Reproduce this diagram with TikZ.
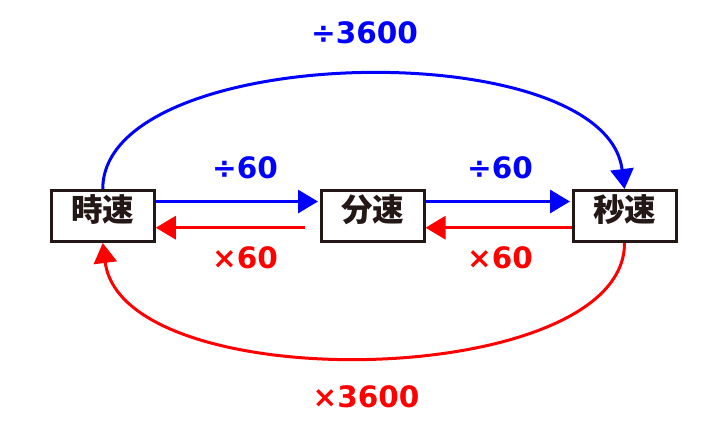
\documentclass[tikz,border=0pt]{standalone}
\usepackage{fontspec}
\newfontfamily\jpfont{Noto Sans CJK JP}
\newfontfamily\lblfont{DejaVu Sans}
\usetikzlibrary{arrows.meta}
\definecolor{boxline}{RGB}{35,24,21}
\definecolor{myblue}{RGB}{0,0,255}
\definecolor{myred}{RGB}{255,0,0}
\begin{document}
\begin{tikzpicture}[x=1pt,y=-1pt,
  spd/.style={draw=boxline, line width=3pt, fill=white, minimum width=103pt, minimum height=51pt,
    inner sep=0pt, text height=20pt, text depth=9pt,
    font=\jpfont\bfseries\fontsize{31.5}{32}\selectfont, text=boxline},
  lbl/.style={font=\lblfont\bfseries\fontsize{29.5}{31}\selectfont, inner sep=0pt},
  bl/.style={myblue, line width=3pt, -{Triangle[length=20pt,width=23pt]}},
  rd/.style={myred, line width=3pt, -{Triangle[length=20pt,width=23pt]}}]
\useasboundingbox (0,0) rectangle (724,429);
\fill[white] (0,0) rectangle (724,429);
\node[spd] (h) at (102.75,216) {時速};
\node[spd] (m) at (372.5,216) {分速};
\node[spd] (s) at (624.5,216) {秒速};
% straight arrows
\draw[bl, shorten >=1.5pt] ([yshift=14.5pt]h.east) -- ([yshift=14.5pt]m.west);
\coordinate (r1s) at ([xshift=-14.8pt, yshift=-11.7pt]m.west);
\draw[rd] (r1s) -- (r1s -| h.east);
\draw[bl, shorten >=1.5pt] ([yshift=14.5pt]m.east) -- ([yshift=14.5pt]s.west);
\draw[rd] ([yshift=-11.7pt]s.west) -- ([yshift=-11.7pt]m.east);
% curves
\draw[bl] (h.north) .. controls (103,42) and (605,32) .. (s.north);
\draw[rd] (s.south) .. controls (625,390) and (123,400) .. (h.south);
% labels
\node[lbl, text=myblue] (d3600) at (364.5,32.5) {÷3600};
\node[lbl, text=myblue] (d60a) at (245,167.5) {÷60};
\node[lbl, text=myblue] (d60b) at (500,167.5) {÷60};
\node[lbl, text=myred] (m60a) at (245,258) {×60};
\node[lbl, text=myred] (m60b) at (500,258) {×60};
\node[lbl, text=myred] (m3600) at (366,396.5) {×3600};
\end{tikzpicture}
\end{document}
